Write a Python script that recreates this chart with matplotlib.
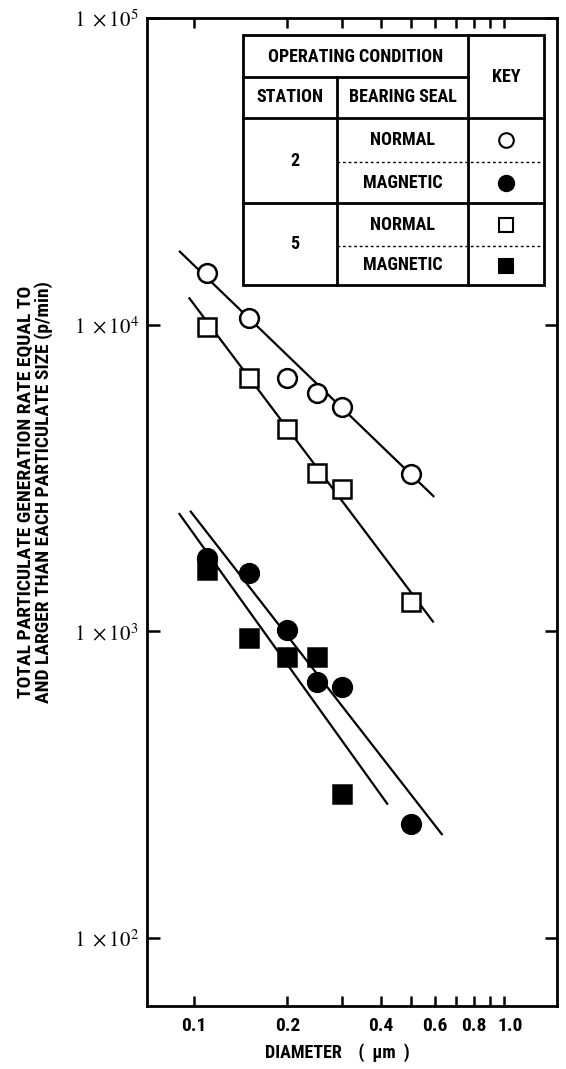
import matplotlib
matplotlib.use("Agg")
import matplotlib.pyplot as plt
import matplotlib.transforms as mtransforms
from matplotlib.lines import Line2D
from matplotlib.ticker import FixedLocator, NullLocator, FixedFormatter

plt.rcParams['mathtext.fontset'] = 'stix'

# ---------------- data ----------------
diam = [0.11, 0.15, 0.20, 0.25, 0.30, 0.50]
st2_normal = [14700, 10500, 6700, 6000, 5400, 3250]
st5_normal = [9800, 6700, 4560, 3290, 2910, 1250]
st2_magnetic = [1730, 1550, 1010, 685, 660, 235]
diam_st5_mag = [0.11, 0.15, 0.20, 0.25, 0.30]
st5_magnetic = [1585, 950, 827, 823, 294]

# fitted lines (end points)
fit_st2n_x = [0.090, 0.592]
fit_st2n_y = [17300, 2760]
fit_st5n_x = [0.0966, 0.590]
fit_st5n_y = [12190, 1076]
fit_st2m_x = [0.0976, 0.630]
fit_st2m_y = [2456, 218]
fit_st5m_x = [0.0897, 0.420]
fit_st5m_y = [2414, 274]

xticks = [0.1, 0.2, 0.3, 0.4, 0.5, 0.6, 0.7, 0.8, 0.9, 1.0]
xticklabels = ["0.1", "0.2", "", "0.4", "", "0.6", "", "0.8", "", "1.0"]
yticks = [1e2, 1e3, 1e4, 1e5]
yticklabels = [r"$1\ \times10^{2}$", r"$1\ \times10^{3}$", r"$1\ \times10^{4}$", r"$1\ \times10^{5}$"]

table_header = ["OPERATING CONDITION", "STATION", "BEARING SEAL", "KEY"]
stations = ["2", "5"]
seals = ["NORMAL", "MAGNETIC", "NORMAL", "MAGNETIC"]

NARROW = ['Roboto Condensed', 'DejaVu Sans']

# ---------------- figure ----------------
W, H = 566, 1069
fig = plt.figure(figsize=(W / 100, H / 100), dpi=100)
ax = fig.add_axes([147 / W, 1 - 1006 / H, (557 - 147) / W, (1006 - 18) / H])
ax.set_xscale('log')
ax.set_yscale('log')
ax.set_xlim(0.0705, 1.483)
ax.set_ylim(60, 1e5)

lw = 1.6
ms = 13.5
mew = 1.8
ax.plot(fit_st2n_x, fit_st2n_y, color='black', lw=lw, zorder=2)
ax.plot(fit_st5n_x, fit_st5n_y, color='black', lw=lw, zorder=2)
ax.plot(fit_st2m_x, fit_st2m_y, color='black', lw=lw, zorder=2)
ax.plot(fit_st5m_x, fit_st5m_y, color='black', lw=lw, zorder=2)

ax.plot(diam, st2_normal, 'o', ms=ms, mfc='white', mec='black', mew=mew, ls='none', zorder=3)
ax.plot(diam, st5_normal, 's', ms=ms, mfc='white', mec='black', mew=mew, ls='none', zorder=3)
ax.plot(diam, st2_magnetic, 'o', ms=ms, mfc='black', mec='black', mew=mew, ls='none', zorder=3)
ax.plot(diam_st5_mag, st5_magnetic, 's', ms=ms, mfc='black', mec='black', mew=mew, ls='none', zorder=3)

for s in ax.spines.values():
    s.set_linewidth(2.0)

ax.xaxis.set_major_locator(FixedLocator(xticks))
ax.xaxis.set_major_formatter(FixedFormatter(xticklabels))
ax.xaxis.set_minor_locator(NullLocator())
ax.yaxis.set_major_locator(FixedLocator(yticks))
ax.yaxis.set_major_formatter(FixedFormatter(yticklabels))
ax.yaxis.set_minor_locator(NullLocator())
ax.tick_params(axis='x', which='major', direction='in', top=True, bottom=True,
               length=7, width=1.8, pad=8, labelsize=14)
ax.tick_params(axis='y', which='major', direction='in', left=True, right=True,
               length=9, width=1.8, pad=6, labelsize=15)
xlabs = ax.get_xticklabels()
for lab in xlabs:
    lab.set_fontweight('bold')
    lab.set_family(NARROW)
# the "1.0" label sits slightly right of its tick in the original
shift = mtransforms.ScaledTranslation(6 / 100, 0, fig.dpi_scale_trans)
xlabs[-1].set_transform(xlabs[-1].get_transform() + shift)

fig.text(337 / W, 1 - 1053 / H, "DIAMETER    (  \u03bcm  )", ha='center', va='center',
         fontsize=13, fontweight='bold', family=NARROW)
fig.text(35 / W, 1 - 492 / H,
         "TOTAL PARTICULATE GENERATION RATE EQUAL TO\nAND LARGER THAN EACH PARTICULATE SIZE (p/min)",
         ha='center', va='center', rotation=90, fontsize=14, fontweight='bold',
         family=NARROW, linespacing=1.0)

# ---------------- table (key) ----------------
ov = fig.add_axes([0, 0, 1, 1])
ov.set_xlim(0, W)
ov.set_ylim(H, 0)
ov.axis('off')
ov.patch.set_alpha(0)

L, C1, C2, R = 243, 337, 468, 544
T, r1, r2, r3, r4, r5, B = 35, 77, 118, 162, 203, 246, 285
tl = 2.0
def hline(x0, x1, y, ls='-', w=tl):
    ov.add_line(Line2D([x0, x1], [y, y], color='black', lw=w, ls=ls))
def vline(x, y0, y1, w=tl):
    ov.add_line(Line2D([x, x], [y0, y1], color='black', lw=w))

ov.add_patch(plt.Rectangle((L, T), R - L, B - T, facecolor='white', edgecolor='black', lw=tl, zorder=1))
hline(L, C2, r1)
hline(L, R, r2)
hline(L, R, r4)
hline(C1, R, r3, ls=(0, (2, 2)), w=1.0)
hline(C1, R, r5, ls=(0, (2, 2)), w=1.0)
vline(C1, r1, B)
vline(C2, T, B)

fkw = dict(ha='center', va='center', fontsize=13, fontweight='bold', family=NARROW)
ov.text((L + C2) / 2, (T + r1) / 2 + 1, table_header[0], **fkw)
ov.text((L + C1) / 2, (r1 + r2) / 2, table_header[1], **fkw)
ov.text((C1 + C2) / 2, (r1 + r2) / 2, table_header[2], **fkw)
ov.text((C2 + R) / 2, (T + r2) / 2, table_header[3], **fkw)
ov.text(295, (r2 + r4) / 2, stations[0], **fkw)
ov.text(295, (r4 + B) / 2, stations[1], **fkw)
rows_y = [(r2 + r3) / 2, (r3 + r4) / 2, (r4 + r5) / 2, (r5 + B) / 2]
for y, s in zip(rows_y, seals):
    ov.text((C1 + C2) / 2, y, s, **fkw)
kx = (C2 + R) / 2
ov.plot([kx], [rows_y[0]], 'o', ms=10.5, mfc='white', mec='black', mew=1.5)
ov.plot([kx], [rows_y[1]], 'o', ms=11, mfc='black', mec='black', mew=1.5)
ov.plot([kx], [rows_y[2]], 's', ms=9.5, mfc='white', mec='black', mew=1.5)
ov.plot([kx], [rows_y[3]], 's', ms=9.5, mfc='black', mec='black', mew=1.5)

fig.savefig("out.png", dpi=100)
